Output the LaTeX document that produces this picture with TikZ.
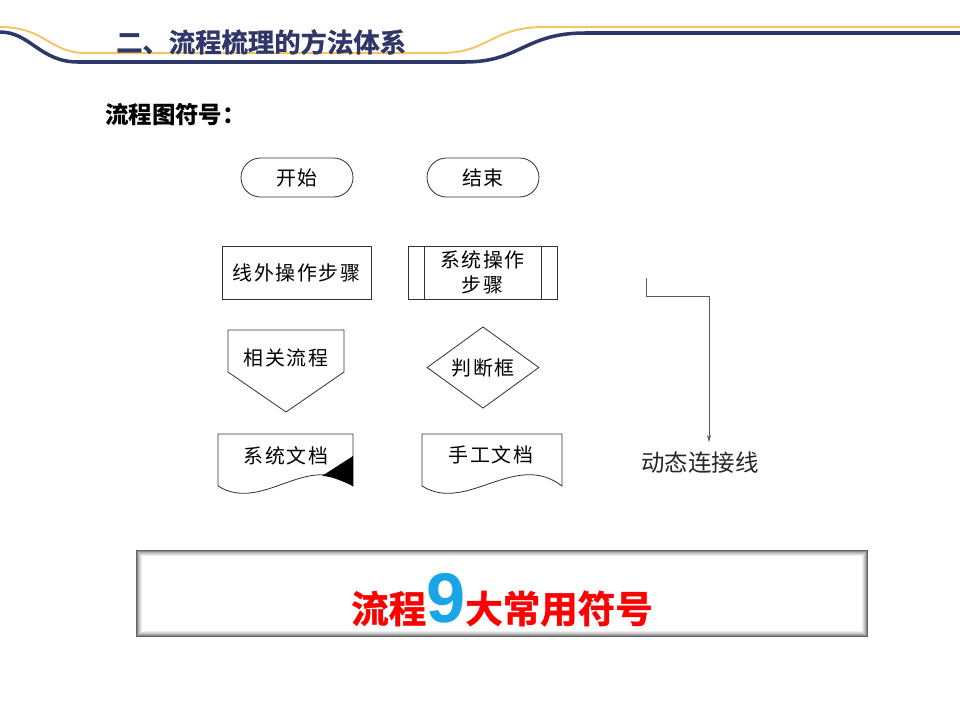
\documentclass[tikz,border=0pt]{standalone}
\usepackage{fontspec}
\usepackage{xcolor}
\usetikzlibrary{arrows.meta,shapes.geometric,shapes.misc}
\newfontfamily\cjk{Noto Sans CJK SC}
\newfontfamily\cjksp[LetterSpace=8]{Noto Sans CJK SC}
\newfontfamily\cjkheavy[FakeBold=1.2]{Noto Sans CJK SC Bold}
\newfontfamily\arialfont{Liberation Sans}
\definecolor{navy}{HTML}{2E3768}
\definecolor{gold}{HTML}{F6C35E}
\definecolor{skyblue}{HTML}{1AA5E6}

\begin{document}
\begin{tikzpicture}[
  x=0.03cm, y=-0.03cm,
  symtext/.style={font=\cjksp\fontsize{17pt}{19pt}\selectfont, align=center, inner sep=0pt},
  symline/.style={draw=black!80, line width=0.7pt},
  terminal/.style={symline, symtext, rounded rectangle,
    minimum width=3.36cm, minimum height=1.17cm},
  stepbox/.style={symline, symtext, rectangle,
    minimum width=4.47cm, minimum height=1.59cm},
  decision/.style={symline, symtext, diamond,
    minimum width=3.36cm, minimum height=1.83cm},
  arrow/.style={-{Stealth[length=6pt,width=3.5pt]}, draw=black!65, line width=0.6pt}
]
\useasboundingbox (0,0) rectangle (960,720);

% header
\draw[gold, line width=1.6pt] (0,27) .. controls (45,27) and (50,53) .. (85,53) -- (440,53)
  .. controls (490,53) and (490,27) .. (545,27) -- (960,27);
\draw[navy, line width=3pt] (0,32) .. controls (30,32) and (40,62) .. (78,62) -- (465,62)
  .. controls (520,62) and (525,33) .. (585,33) -- (960,33);
\node (title) [anchor=west, text=navy, font=\cjkheavy\fontsize{22.5pt}{26pt}\selectfont]
  at (112,42) {二、流程梳理的方法体系};

\node (sub) [anchor=west, font=\cjk\bfseries\fontsize{20pt}{24pt}\selectfont]
  at (101,115) {流程图符号：};

% symbols
\node (start) [terminal] at (297,177.5) {开始};
\node (stop) [terminal] at (483,177.5) {结束};
\node (off) [stepbox] at (296.5,272.5) {线外操作步骤};
\node (sys) [stepbox, font=\cjksp\fontsize{17pt}{21pt}\selectfont] at (482.5,272.5) {系统操作\\步骤};
\draw[symline] ([xshift=0.51cm]sys.north west) -- ([xshift=0.51cm]sys.south west);
\draw[symline] ([xshift=-0.48cm]sys.north east) -- ([xshift=-0.48cm]sys.south east);

\draw[symline] (228,330) -- (344,330) -- (344,372) -- (286,412) -- (228,372) -- cycle;
\node (rel) [symtext] at (286,358) {相关流程};
\node (dec) [decision] at (483,367.5) {判断框};

\draw[symline] (218,486) -- (218,434) -- (353,434) -- (353,486)
  .. controls (308,450) and (263,514) .. (218,486) -- cycle;
\fill[black] (322,476) -- (353,456) -- (353,486) .. controls (340,480) and (330,476) .. (322,476) -- cycle;
\node (sdoc) [symtext] at (286,456) {系统文档};

\draw[symline] (422,486) -- (422,434) -- (562,434) -- (562,486)
  .. controls (515,450) and (467,514) .. (422,486) -- cycle;
\node (hdoc) [symtext] at (491,455) {手工文档};

% dynamic connector
\coordinate (c0) at (646,278);
\coordinate (c1) at (709,442);
\draw[arrow] (c0) -- ++(0,18) -| (c1);
\node (dyn) [font=\cjk\fontsize{20pt}{24pt}\selectfont, text=black!85] at (700,463) {动态连接线};

% banner
\fill[white] (136,550) rectangle (868,637);
\foreach \i/\c in {0/62,1/45,2/32,3/22,4/14,5/7}
  \draw[black!\c, line width=0.9pt] (136.5+\i,550.5+\i) rectangle (867.5-\i,636.5-\i);
\node (banner) at (502,600) {\cjkheavy\fontsize{32pt}{36pt}\selectfont
  \textcolor{red}{流程}\textcolor{skyblue}{\arialfont\bfseries\fontsize{60pt}{60pt}\selectfont 9}\textcolor{red}{大常用符号}};
\end{tikzpicture}
\end{document}
